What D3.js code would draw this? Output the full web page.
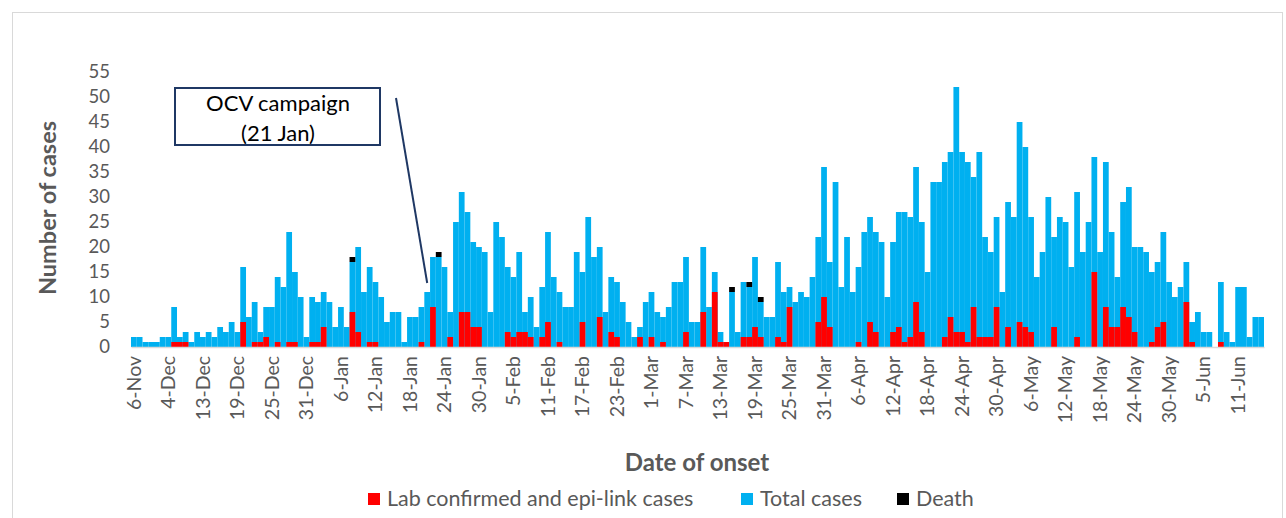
<!DOCTYPE html>
<html>
<head>
<meta charset="utf-8">
<script src="https://cdn.jsdelivr.net/npm/d3@7/dist/d3.min.js"></script>
<style>
  body { margin: 0; background: #fff; }
  text { font-family: Lato, "Open Sans", sans-serif; }
</style>
</head>
<body>
<div id="chart"></div>
<script>
// one label every 6th category
var tickLabels = ['6-Nov', '4-Dec', '13-Dec', '19-Dec', '25-Dec', '31-Dec', '6-Jan', '12-Jan', '18-Jan',
    '24-Jan', '30-Jan', '5-Feb', '11-Feb', '17-Feb', '23-Feb', '1-Mar', '7-Mar', '13-Mar', '19-Mar',
    '25-Mar', '31-Mar', '6-Apr', '12-Apr', '18-Apr', '24-Apr', '30-Apr', '6-May', '12-May', '18-May',
    '24-May', '30-May', '5-Jun', '11-Jun'];

var totalCases = [
    2, 2, 1, 1, 1, 2, 2, 8, 2, 3, 1, 3, 2, 3, 2, 4, 3,
    5, 3, 16, 6, 9, 3, 8, 8, 14, 12, 23, 15, 10, 2, 10, 9,
    11, 9, 4, 8, 4, 17, 20, 11, 16, 13, 10, 5, 7, 7, 1, 6, 6,
    8, 11, 18, 18, 16, 7, 25, 31, 27, 21, 20, 19, 7, 25, 22, 16, 14,
    19, 7, 10, 4, 12, 23, 14, 11, 8, 8, 19, 15, 26, 18, 20, 7, 14,
    13, 9, 5, 2, 4, 9, 11, 7, 6, 8, 13, 13, 18, 5, 5, 20,
    8, 15, 3, 1, 11, 3, 13, 12, 18, 9, 6, 6, 17, 11, 12, 9, 11,
    10, 14, 22, 36, 17, 33, 12, 22, 11, 16, 23, 26, 23, 21, 10, 21, 27,
    27, 26, 36, 25, 15, 33, 33, 37, 39, 52, 39, 37, 34, 39, 22, 19, 26,
    11, 29, 26, 45, 40, 26, 14, 19, 30, 22, 26, 25, 16, 31, 19, 25,
    38, 19, 37, 23, 14, 29, 32, 20, 20, 19, 15, 17, 23, 13, 10, 12, 17,
    5, 7, 3, 3, 0, 13, 3, 1, 12, 12, 2, 6, 6
];

var labCases = [
    0, 0, 0, 0, 0, 0, 0, 1, 1, 1, 0, 0, 0, 0, 0, 0, 0,
    0, 0, 5, 0, 1, 1, 2, 0, 1, 0, 1, 1, 0, 0, 1, 1,
    4, 0, 0, 0, 0, 7, 3, 0, 1, 1, 0, 0, 0, 0, 0, 0, 0,
    1, 0, 8, 0, 0, 2, 0, 7, 7, 4, 4, 0, 0, 0, 0, 3, 2,
    3, 3, 2, 0, 2, 5, 0, 1, 0, 0, 0, 5, 0, 0, 6, 0, 3,
    2, 0, 0, 0, 2, 0, 2, 0, 1, 0, 0, 0, 3, 0, 0, 7,
    0, 11, 1, 1, 0, 0, 2, 2, 4, 2, 0, 0, 2, 1, 8, 0, 0,
    0, 0, 5, 10, 4, 0, 0, 0, 0, 1, 0, 5, 3, 0, 0, 3, 4,
    1, 2, 9, 3, 0, 0, 0, 2, 6, 3, 3, 1, 8, 2, 2, 2, 8,
    0, 4, 0, 5, 4, 3, 0, 0, 0, 4, 0, 0, 0, 2, 0, 0,
    15, 0, 8, 4, 4, 8, 6, 3, 0, 0, 1, 4, 5, 0, 0, 0, 9,
    1, 0, 0, 0, 0, 1, 0, 0, 0, 0, 0, 0, 0
];

var deaths = [
    0, 0, 0, 0, 0, 0, 0, 0, 0, 0, 0, 0, 0, 0, 0, 0, 0,
    0, 0, 0, 0, 0, 0, 0, 0, 0, 0, 0, 0, 0, 0, 0, 0,
    0, 0, 0, 0, 0, 1, 0, 0, 0, 0, 0, 0, 0, 0, 0, 0, 0,
    0, 0, 0, 1, 0, 0, 0, 0, 0, 0, 0, 0, 0, 0, 0, 0, 0,
    0, 0, 0, 0, 0, 0, 0, 0, 0, 0, 0, 0, 0, 0, 0, 0, 0,
    0, 0, 0, 0, 0, 0, 0, 0, 0, 0, 0, 0, 0, 0, 0, 0,
    0, 0, 0, 0, 1, 0, 0, 1, 0, 1, 0, 0, 0, 0, 0, 0, 0,
    0, 0, 0, 0, 0, 0, 0, 0, 0, 0, 0, 0, 0, 0, 0, 0, 0,
    0, 0, 0, 0, 0, 0, 0, 0, 0, 0, 0, 0, 0, 0, 0, 0, 0,
    0, 0, 0, 0, 0, 0, 0, 0, 0, 0, 0, 0, 0, 0, 0, 0,
    0, 0, 0, 0, 0, 0, 0, 0, 0, 0, 0, 0, 0, 0, 0, 0, 0,
    0, 0, 0, 0, 0, 0, 0, 0, 0, 0, 0, 0, 0
];

var ocvIndex = 51; // 21 Jan

var svgWidth = 1286;
var svgHeight = 518;

var margin = { top: 72, right: 22, bottom: 171, left: 131 };
var width = svgWidth - margin.left - margin.right;
var height = svgHeight - margin.top - margin.bottom;

var svg = d3.select('#chart')
    .append('svg')
    .attr('width', svgWidth)
    .attr('height', svgHeight);

// chart frame
svg.append('rect')
    .attr('x', 12.5)
    .attr('y', 12.5)
    .attr('width', 1270)
    .attr('height', 530)
    .attr('fill', 'none')
    .attr('stroke', '#d9d9d9');

var chartGroup = svg.append('g')
    .attr('transform', `translate(${margin.left}, ${margin.top})`);

var days = d3.range(totalCases.length);

var xScale = d3.scaleBand()
    .domain(days)
    .range([0, width])
    .padding(0);

var yScale = d3.scaleLinear()
    .domain([0, 55])
    .range([height, 0]);

// total cases
chartGroup.selectAll('rect.total')
    .data(days)
    .enter()
    .append('rect')
    .attr('class', 'total')
    .attr('x', d => xScale(d))
    .attr('y', d => yScale(totalCases[d]))
    .attr('width', xScale.bandwidth())
    .attr('height', d => height - yScale(totalCases[d]))
    .attr('fill', '#00b0f0');

// deaths sit on top of the total bar
chartGroup.selectAll('rect.death')
    .data(days.filter(d => deaths[d] > 0))
    .enter()
    .append('rect')
    .attr('class', 'death')
    .attr('x', d => xScale(d))
    .attr('y', d => yScale(totalCases[d] + deaths[d]))
    .attr('width', xScale.bandwidth())
    .attr('height', d => yScale(totalCases[d]) - yScale(totalCases[d] + deaths[d]))
    .attr('fill', '#000');

// lab confirmed
chartGroup.selectAll('rect.lab')
    .data(days.filter(d => labCases[d] > 0))
    .enter()
    .append('rect')
    .attr('class', 'lab')
    .attr('x', d => xScale(d))
    .attr('y', d => yScale(labCases[d]))
    .attr('width', xScale.bandwidth())
    .attr('height', d => height - yScale(labCases[d]))
    .attr('fill', '#ff0000');

var leftAxis = d3.axisLeft(yScale)
    .tickValues(d3.range(0, 56, 5))
    .tickSize(0)
    .tickPadding(21);

var yAxis = chartGroup.append('g').call(leftAxis);
yAxis.select('.domain').remove();
yAxis.selectAll('text')
    .attr('fill', '#595959')
    .style('font-size', '18.5px');

var bottomAxis = d3.axisBottom(xScale)
    .tickValues(d3.range(0, totalCases.length, 6))
    .tickFormat((d, i) => tickLabels[i])
    .tickSize(0);

var xAxis = chartGroup.append('g')
    .attr('transform', `translate(0, ${height})`)
    .call(bottomAxis);
xAxis.select('.domain').attr('stroke', '#d9d9d9').attr('stroke-width', 1.5);
xAxis.selectAll('text')
    .attr('transform', 'rotate(-90)')
    .attr('x', -9)
    .attr('y', 0)
    .attr('dy', '0.35em')
    .attr('text-anchor', 'end')
    .attr('fill', '#595959')
    .style('font-size', '19.5px');

// axis titles
svg.append('text')
    .attr('transform', 'rotate(-90)')
    .attr('x', -208)
    .attr('y', 56)
    .attr('text-anchor', 'middle')
    .attr('fill', '#595959')
    .style('font-size', '23.5px')
    .style('font-weight', 'bold')
    .text('Number of cases');

svg.append('text')
    .attr('x', 697)
    .attr('y', 471)
    .attr('text-anchor', 'middle')
    .attr('fill', '#595959')
    .style('font-size', '24px')
    .style('font-weight', 'bold')
    .text('Date of onset');

// OCV campaign callout
svg.append('rect')
    .attr('x', 175)
    .attr('y', 88)
    .attr('width', 205)
    .attr('height', 57)
    .attr('fill', '#fff')
    .attr('stroke', '#1f3864')
    .attr('stroke-width', 2);

svg.append('text')
    .attr('x', 278)
    .attr('y', 111)
    .attr('text-anchor', 'middle')
    .attr('fill', '#000')
    .style('font-size', '22px')
    .text('OCV campaign');

svg.append('text')
    .attr('x', 278)
    .attr('y', 141)
    .attr('text-anchor', 'middle')
    .attr('fill', '#000')
    .style('font-size', '22px')
    .text('(21 Jan)');

chartGroup.append('line')
    .attr('x1', 396 - margin.left)
    .attr('y1', 98 - margin.top)
    .attr('x2', xScale(ocvIndex) + xScale.bandwidth() / 2)
    .attr('y2', yScale(totalCases[ocvIndex]) - 9)
    .attr('stroke', '#1f3864')
    .attr('stroke-width', 2);

// legend
var legendItems = [
    { label: 'Lab confirmed and epi-link cases', color: '#ff0000', x: 368 },
    { label: 'Total cases', color: '#00b0f0', x: 741 },
    { label: 'Death', color: '#000', x: 897 }
];

var legend = svg.selectAll('g.legend')
    .data(legendItems)
    .enter()
    .append('g')
    .attr('class', 'legend')
    .attr('transform', d => `translate(${d.x}, 493)`);

legend.append('rect')
    .attr('width', 12)
    .attr('height', 12)
    .attr('fill', d => d.color);

legend.append('text')
    .attr('x', 19)
    .attr('y', 13)
    .attr('fill', '#595959')
    .style('font-size', '21.5px')
    .text(d => d.label);
</script>
</body>
</html>
